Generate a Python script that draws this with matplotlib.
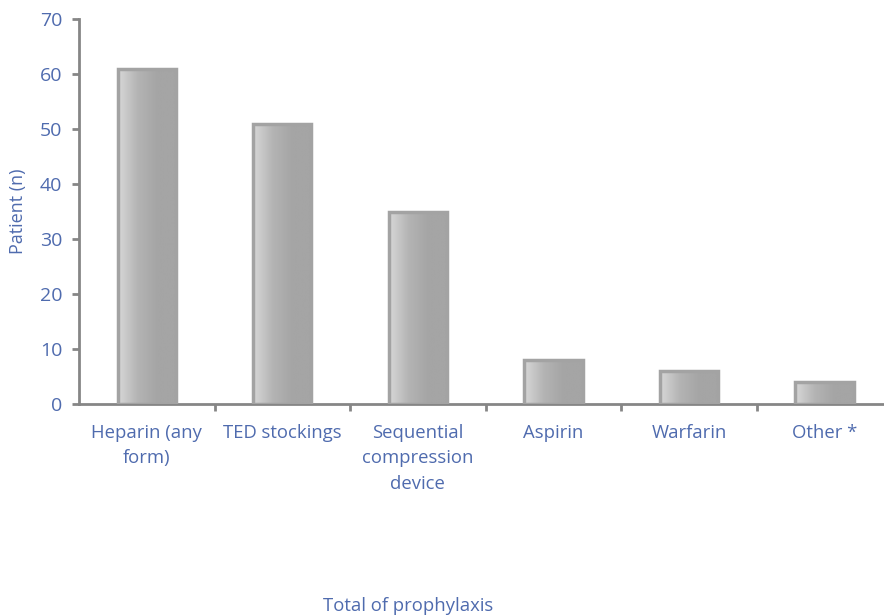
import matplotlib.pyplot as plt
import numpy as np
from matplotlib.colors import LinearSegmentedColormap

categories = ["Heparin (any\nform)", "TED stockings", "Sequential\ncompression\ndevice",
              "Aspirin", "Warfarin", "Other *"]
patients = [61, 51, 35, 8, 6, 4]

text_color = "#4f6bae"
axis_color = "#868686"

plt.rcParams['font.family'] = ['Open Sans', 'DejaVu Sans']

fig = plt.figure(figsize=(8.84, 6.16), dpi=100)
ax = fig.add_axes([0.0894, 0.344, 0.92, 0.625])

x = np.arange(len(categories))
width = 0.43
bars = ax.bar(x, patients, width=width, facecolor="none", edgecolor="#a3a3a3",
              linewidth=2.5, zorder=3)

# horizontal light-to-dark gradient inside each bar
grad = np.linspace(0, 1, 256).reshape(1, -1)
cmap = LinearSegmentedColormap.from_list("bar", ["#d8d8d8", "#b4b4b4", "#a5a5a5", "#a5a5a5"])
for b in bars:
    x0, y0 = b.get_x(), b.get_y()
    im = ax.imshow(grad, cmap=cmap, aspect="auto", zorder=2,
                   extent=[x0, x0 + b.get_width(), y0, y0 + b.get_height()])
    im.set_clip_path(b)

ax.set_xlim(-0.5, len(categories) - 0.5)
ax.set_ylim(0, 70)
ax.set_yticks(range(0, 71, 10))
ax.set_xticks(x)
ax.set_xticklabels(categories, color=text_color, fontsize=13.3, linespacing=1.55)
ax.set_xticks(np.arange(0.5, len(categories) - 0.5, 1), minor=True)
ax.tick_params(axis="x", which="major", length=0, pad=14)
ax.tick_params(axis="x", which="minor", length=5, width=2, color=axis_color)
ax.tick_params(axis="y", length=5, width=2, color=axis_color, labelcolor=text_color,
               labelsize=14, pad=7)

for s in ["top", "right"]:
    ax.spines[s].set_visible(False)
for s in ["left", "bottom"]:
    ax.spines[s].set_color(axis_color)
    ax.spines[s].set_linewidth(2)

ax.set_ylabel("Patient (n)", color=text_color, fontsize=13)
ax.yaxis.set_label_coords(-0.064, 0.5)
fig.text(0.4615, 0.008, "Total of prophylaxis", color=text_color, fontsize=13.3,
         ha="center", va="baseline")

fig.savefig("out.png", dpi=100)
